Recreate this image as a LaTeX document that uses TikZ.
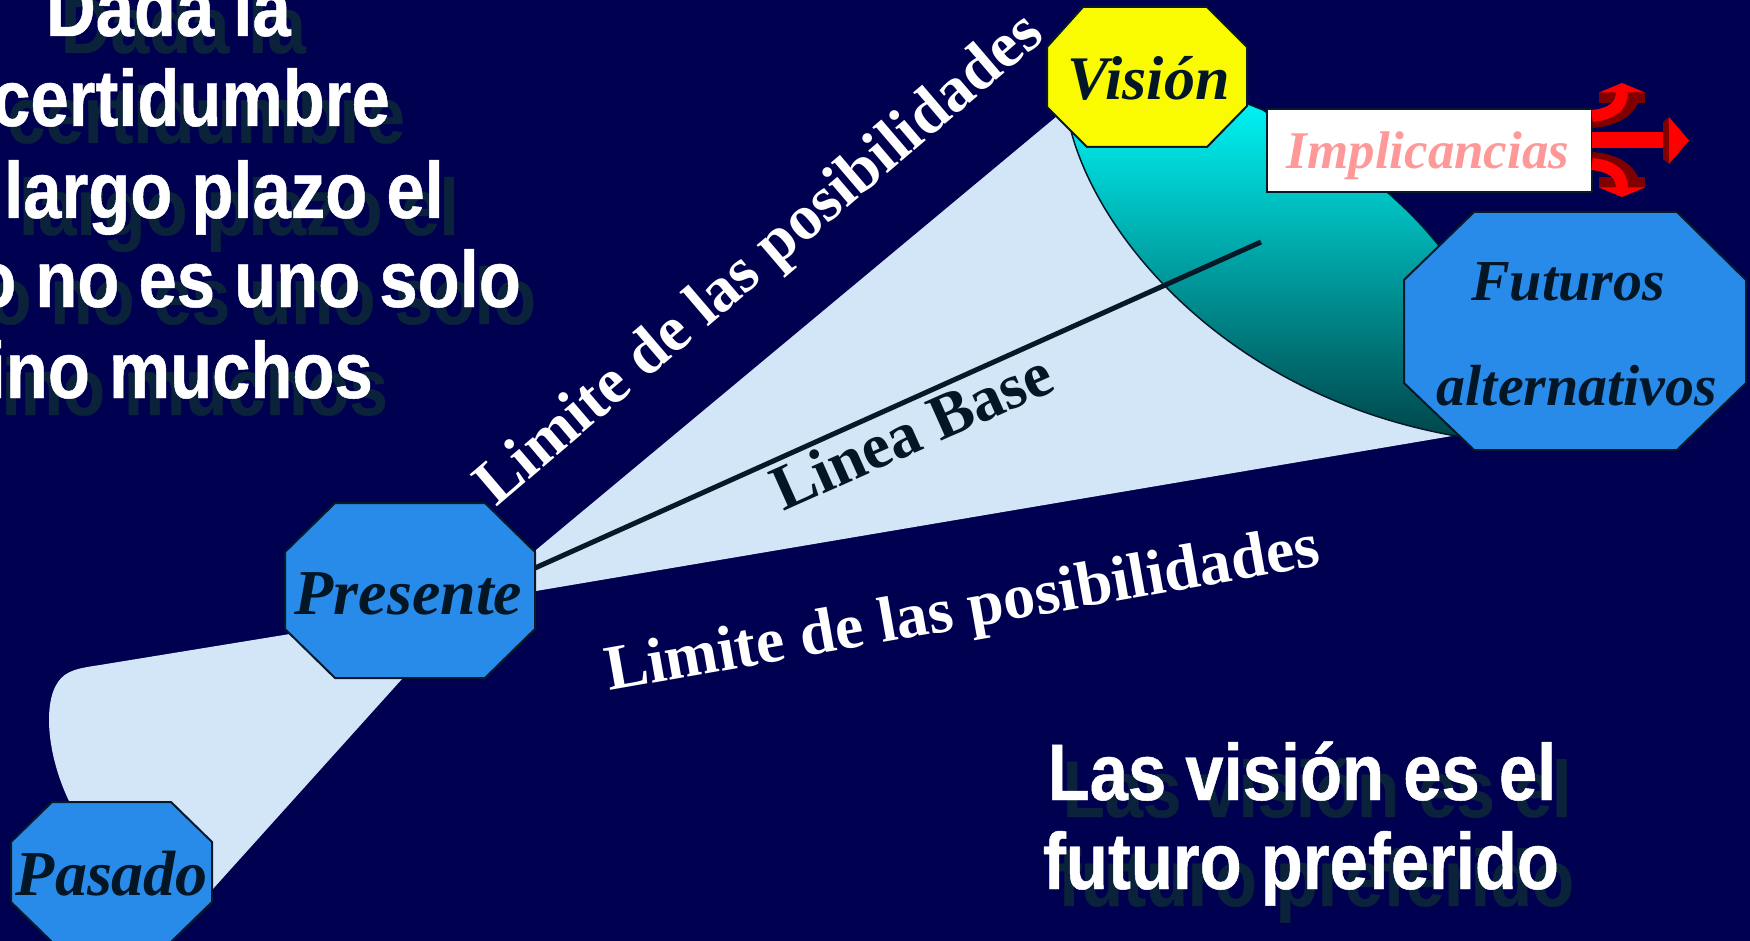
\documentclass[tikz,border=0pt]{standalone}
\usepackage{fontspec}
\setmainfont{Liberation Serif}
\newfontfamily\condsans[FakeStretch=0.86,FakeBold=0.6]{Liberation Sans}
\definecolor{bgnavy}{RGB}{0,0,80}
\definecolor{lightbl}{RGB}{211,230,248}
\definecolor{octblue}{RGB}{41,139,233}
\definecolor{octline}{RGB}{5,25,40}
\definecolor{darktxt}{RGB}{3,22,38}
\definecolor{visyel}{RGB}{250,250,0}
\definecolor{cyantop}{RGB}{0,255,255}
\definecolor{tealbot}{RGB}{0,70,74}
\definecolor{pinktxt}{RGB}{255,153,153}
\definecolor{arrred}{RGB}{255,0,0}
\definecolor{arrdark}{RGB}{128,0,0}
\definecolor{shadowc}{RGB}{10,34,58}
\begin{document}
\begin{tikzpicture}[x=1pt,y=-1pt,
  octo/.style={draw=octline, line width=2pt, line join=miter},
  octtxt/.style={font=\bfseries\itshape\fontsize{64}{64}\selectfont, text=darktxt, inner sep=0pt, anchor=base},
  lbl/.style={font=\bfseries\fontsize{64}{64}\selectfont, inner sep=0pt, anchor=base west},
  bigsans/.style={font=\condsans\bfseries\fontsize{80}{80}\selectfont, inner sep=0pt}]
\useasboundingbox (0,0) rectangle (1750,941);
\clip (0,0) rectangle (1750,941);
\fill[bgnavy] (0,0) rectangle (1750,941);

% light blue cone (future)
\fill[lightbl] (536,550) -- (1062,112) -- (1458,435) -- (536,591) -- cycle;
% light blue cone (past)
\fill[lightbl] (402,679) -- (212,890) -- (120,880) -- (71,805)
  .. controls (48,760) and (42,705) .. (58,682)
  .. controls (66,670) and (80,668) .. (100,665) -- (290,634) -- (350,640) -- cycle;

% cyan end cap
\shade[top color=cyantop, bottom color=tealbot, draw=octline, line width=1.5pt]
  (1068,118) .. controls (1090,230) and (1225,398) .. (1462,437)
  -- (1500,380) -- (1440,247) .. controls (1420,222) and (1405,208) .. (1386,191)
  -- (1263,110) -- (1248,104) -- (1180,80) -- cycle;

% Linea Base
\coordinate (lbs) at (535,568);
\coordinate (lbe) at (1261,242);
\draw[octline, line width=5pt] (lbs) -- (lbe);

% octagons
\filldraw[octo, fill=octblue] (335,503) -- (485,503) -- (535,552) -- (535,629) -- (485,678) -- (335,678) -- (285,629) -- (285,552) -- cycle;
\filldraw[octo, fill=octblue] (52,802) -- (171,802) -- (212,842) -- (212,902) -- (171,942) -- (52,942) -- (11,902) -- (11,842) -- cycle;
\filldraw[octo, fill=visyel] (1083,7) -- (1207,7) -- (1247,47) -- (1247,106) -- (1207,147) -- (1087,147) -- (1047,107) -- (1047,47) -- cycle;
\filldraw[octo, fill=octblue] (1474,212) -- (1677,212) -- (1746,280) -- (1746,383) -- (1677,450) -- (1474,450) -- (1404,383) -- (1404,280) -- cycle;

\node[octtxt] (presente) at (408.5,614) {Presente};
\node[octtxt] (pasado) at (112,895) {Pasado};
\node[octtxt, font=\bfseries\itshape\fontsize{62}{62}\selectfont] (vision) at (1148.5,100) {Visión};
\node[octtxt, font=\bfseries\itshape\fontsize{58}{58}\selectfont] (futuros) at (1568,300) {Futuros};
\node[octtxt, font=\bfseries\itshape\fontsize{58}{58}\selectfont] (alternativos) at (1577,405) {alternativos};

% Implicancias box
\node[draw=octline, fill=white, line width=2pt, minimum width=325pt, minimum height=83pt, inner sep=0pt] (implbox) at (1429.5,150.5) {};
\node[octtxt, text=pinktxt, font=\bfseries\itshape\fontsize{53}{53}\selectfont] (impl) at (1428,169) {Implicancias};

% red arrows
\fill[arrred] (1592,132) rectangle (1664,148);
\fill[arrdark] (1663,122) -- (1669,117) -- (1669,164) -- (1663,159) -- cycle;
\fill[arrred] (1669,117) -- (1689,140.5) -- (1669,164) -- cycle;
% up
\draw[arrdark, line width=12pt] (1592,122) .. controls (1618,120) and (1634,108) .. (1634,92);
\fill[arrdark] (1599,92) rectangle (1645,103);
\draw[arrred, line width=12pt] (1592,116) .. controls (1612,114) and (1622,106) .. (1622,92);
\fill[arrred] (1599,92.5) -- (1622,83) -- (1645,92.5) -- cycle;
% down
\draw[arrdark, line width=12pt] (1592,158) .. controls (1618,160) and (1634,172) .. (1634,188);
\fill[arrdark] (1599,177) rectangle (1645,188);
\draw[arrred, line width=12pt] (1592,164) .. controls (1612,166) and (1622,174) .. (1622,188);
\fill[arrred] (1599,187.5) -- (1622,197) -- (1645,187.5) -- cycle;

% labels
\node[lbl, text=white, rotate=40.5] (limsup) at (496,508) {Limite de las posibilidades};
\node[lbl, text=white, rotate=10] (liminf) at (609,691) {Limite de las posibilidades};
\node[lbl, text=darktxt, rotate=24] (lineabase) at (783,512) {Linea Base};

% big sans texts: shadows
\node[bigsans, text=shadowc, anchor=base east] (t1s) at (306,53) {Dada la};
\node[bigsans, text=shadowc, anchor=base east] (t2s) at (405,143) {certidumbre};
\node[bigsans, text=shadowc, anchor=base east] (t3s) at (459,235) {largo plazo el};
\node[bigsans, text=shadowc, anchor=base east] (t4s) at (536,324) {o no es uno solo};
\node[bigsans, text=shadowc, anchor=base east] (t5s) at (388,415) {ino muchos};
\node[bigsans, text=shadowc, anchor=base] (b1s) at (1317,817) {Las visión es el};
\node[bigsans, text=shadowc, anchor=base] (b2s) at (1316,906) {futuro preferido};
% big sans texts
\node[bigsans, text=white, anchor=base east] (t1) at (291,36) {Dada la};
\node[bigsans, text=white, anchor=base east] (t2) at (390,126) {certidumbre};
\node[bigsans, text=white, anchor=base east] (t3) at (444,218) {largo plazo el};
\node[bigsans, text=white, anchor=base east] (t4) at (521,307) {o no es uno solo};
\node[bigsans, text=white, anchor=base east] (t5) at (373,398) {ino muchos};
\node[bigsans, text=white, anchor=base] (b1) at (1302,800) {Las visión es el};
\node[bigsans, text=white, anchor=base] (b2) at (1301,889) {futuro preferido};
\end{tikzpicture}
\end{document}
